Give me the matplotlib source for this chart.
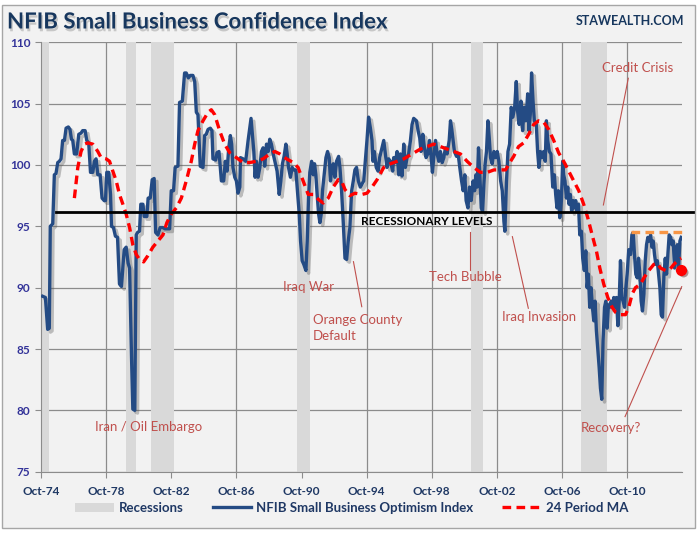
import matplotlib
matplotlib.use("Agg")
import matplotlib.pyplot as plt
import matplotlib.patheffects as pe
from matplotlib.patches import Patch, Rectangle
from matplotlib.lines import Line2D

plt.rcParams['font.family'] = ['Lato', 'DejaVu Sans']

# NFIB Small Business Optimism Index (fractional years)
nfib_years = [
    1974.85, 1975.02, 1975.16, 1975.26, 1975.32, 1975.47, 1975.57, 1975.67, 1975.78, 1975.88,
    1975.98, 1976.08, 1976.19, 1976.29, 1976.43, 1976.53, 1976.62, 1976.70, 1976.80, 1976.94,
    1977.07, 1977.21, 1977.31, 1977.46, 1977.56, 1977.68, 1977.79, 1977.93, 1978.03, 1978.13,
    1978.24, 1978.38, 1978.50, 1978.63, 1978.71, 1978.79, 1978.91, 1979.02, 1979.08, 1979.20,
    1979.32, 1979.45, 1979.57, 1979.69, 1979.86, 1979.98, 1980.10, 1980.19, 1980.31, 1980.39,
    1980.51, 1980.60, 1980.68, 1980.80, 1980.88, 1981.01, 1981.09, 1981.25, 1981.33, 1981.46,
    1981.58, 1981.70, 1981.79, 1981.93, 1982.07, 1982.24, 1982.36, 1982.65, 1982.75, 1982.89,
    1982.99, 1983.16, 1983.26, 1983.43, 1983.57, 1983.67, 1983.80, 1983.92, 1984.08, 1984.19,
    1984.29, 1984.39, 1984.53, 1984.70, 1984.80, 1984.90, 1985.01, 1985.15, 1985.25, 1985.31,
    1985.48, 1985.56, 1985.68, 1985.83, 1985.97, 1986.07, 1986.18, 1986.28, 1986.38, 1986.46,
    1986.54, 1986.65, 1986.75, 1986.85, 1986.96, 1987.00, 1987.16, 1987.32, 1987.47, 1987.57,
    1987.65, 1987.73, 1987.82, 1987.90, 1987.98, 1988.08, 1988.19, 1988.29, 1988.39, 1988.49,
    1988.60, 1988.70, 1988.80, 1988.90, 1989.01, 1989.11, 1989.25, 1989.38, 1989.48, 1989.58,
    1989.68, 1989.79, 1989.87, 1989.95, 1990.07, 1990.18, 1990.28, 1990.40, 1990.48, 1990.61,
    1990.69, 1990.79, 1990.89, 1991.02, 1991.10, 1991.18, 1991.26, 1991.37, 1991.47, 1991.55,
    1991.63, 1991.71, 1991.80, 1991.88, 1991.96, 1992.04, 1992.14, 1992.25, 1992.35, 1992.45,
    1992.53, 1992.62, 1992.70, 1992.80, 1992.90, 1993.03, 1993.11, 1993.21, 1993.31, 1993.42,
    1993.52, 1993.62, 1993.72, 1993.83, 1993.93, 1994.03, 1994.13, 1994.24, 1994.36, 1994.57,
    1994.77, 1994.87, 1994.98, 1995.08, 1995.14, 1995.22, 1995.34, 1995.45, 1995.55, 1995.69,
    1995.80, 1995.90, 1996.00, 1996.10, 1996.21, 1996.35, 1996.41, 1996.51, 1996.62, 1996.72,
    1996.82, 1996.92, 1997.03, 1997.13, 1997.23, 1997.33, 1997.44, 1997.54, 1997.64, 1997.81,
    1997.91, 1998.01, 1998.09, 1998.20, 1998.30, 1998.40, 1998.50, 1998.61, 1998.71, 1998.79,
    1998.87, 1998.98, 1999.08, 1999.18, 1999.28, 1999.39, 1999.49, 1999.59, 1999.69, 1999.82,
    1999.90, 1999.98, 2000.06, 2000.14, 2000.27, 2000.37, 2000.47, 2000.58, 2000.68, 2000.78,
    2000.86, 2000.97, 2001.07, 2001.17, 2001.29, 2001.38, 2001.46, 2001.54, 2001.62, 2001.70,
    2001.79, 2001.87, 2001.95, 2002.03, 2002.11, 2002.20, 2002.28, 2002.36, 2002.46, 2002.57,
    2002.67, 2002.77, 2002.87, 2002.98, 2003.08, 2003.18, 2003.24, 2003.34, 2003.43, 2003.53,
    2003.63, 2003.73, 2003.84, 2003.94, 2004.02, 2004.12, 2004.23, 2004.33, 2004.43, 2004.53,
    2004.64, 2004.72, 2004.80, 2004.88, 2004.97, 2005.05, 2005.17, 2005.25, 2005.33, 2005.42,
    2005.52, 2005.62, 2005.72, 2005.79, 2005.87, 2005.97, 2006.07, 2006.18, 2006.28, 2006.36,
    2006.44, 2006.52, 2006.61, 2006.71, 2006.79, 2006.85, 2006.93, 2007.02, 2007.10, 2007.18,
    2007.26, 2007.34, 2007.43, 2007.51, 2007.59, 2007.67, 2007.76, 2007.84, 2007.94, 2008.02,
    2008.12, 2008.21, 2008.29, 2008.37, 2008.45, 2008.53, 2008.62, 2008.70, 2008.78, 2008.86,
    2008.94, 2009.03, 2009.11, 2009.19, 2009.27, 2009.36, 2009.44, 2009.52, 2009.60, 2009.68,
    2009.77, 2009.85, 2009.93, 2010.01, 2010.09, 2010.18, 2010.26, 2010.34, 2010.42, 2010.50,
    2010.59, 2010.67, 2010.75, 2010.85, 2010.96, 2011.04, 2011.12, 2011.20, 2011.28, 2011.37,
    2011.45, 2011.53, 2011.61, 2011.69, 2011.78, 2011.86, 2011.94, 2012.02, 2012.10, 2012.19,
    2012.27, 2012.35, 2012.43, 2012.51, 2012.60, 2012.68, 2012.76, 2012.84, 2012.92, 2013.01,
    2013.09, 2013.17, 2013.25, 2013.33, 2013.42, 2013.50, 2013.58, 2013.66, 2013.74, 2013.83,
    2013.91, 2013.99, 2014.07,
]
nfib_values = [
    89.3, 89.2, 86.6, 86.7, 95.0, 95.2, 99.2, 99.3, 100.2, 100.3,
    100.5, 102.0, 102.0, 103.0, 103.1, 102.9, 102.1, 102.0, 100.9, 100.9,
    102.5, 102.6, 102.8, 102.8, 102.0, 101.8, 99.4, 99.4, 100.3, 100.5,
    99.2, 99.2, 97.3, 97.1, 97.1, 99.4, 99.4, 97.6, 95.0, 94.9,
    94.2, 94.1, 90.3, 90.1, 93.1, 93.3, 92.0, 91.6, 84.3, 80.1,
    80.0, 94.3, 94.5, 94.6, 96.8, 96.8, 95.8, 95.8, 97.3, 97.3,
    98.8, 98.9, 94.5, 94.3, 94.9, 94.9, 94.8, 94.8, 97.9, 97.9,
    99.8, 99.9, 105.1, 105.2, 107.5, 107.5, 107.1, 107.3, 107.3, 106.8,
    104.3, 104.1, 99.9, 99.8, 102.4, 102.5, 102.9, 103.0, 102.8, 100.5,
    100.4, 101.0, 101.1, 98.7, 98.7, 100.3, 99.5, 101.4, 102.4, 101.7,
    99.8, 99.0, 98.7, 97.7, 98.2, 100.6, 100.5, 100.3, 102.0, 103.0,
    103.8, 102.5, 101.1, 99.0, 100.3, 99.0, 99.8, 101.1, 101.4, 99.9,
    101.7, 101.1, 102.1, 101.7, 100.9, 100.3, 99.5, 97.6, 98.7, 100.1,
    100.7, 101.7, 100.9, 99.8, 99.0, 99.8, 99.6, 99.6, 98.2, 96.0,
    93.8, 92.2, 91.9, 91.4, 93.8, 97.3, 99.4, 100.3, 99.2, 100.1,
    99.2, 97.6, 96.0, 95.3, 96.0, 97.9, 99.2, 100.6, 101.1, 100.6,
    98.7, 99.8, 100.1, 99.0, 100.3, 100.7, 99.8, 97.9, 95.4, 92.4,
    92.3, 93.8, 94.9, 97.9, 98.7, 99.6, 99.8, 98.7, 98.2, 98.7,
    102.0, 103.9, 103.0, 102.0, 100.3, 101.1, 99.8, 99.5, 100.6, 101.4,
    102.0, 100.9, 99.8, 100.5, 100.3, 99.5, 100.6, 100.2, 101.1, 99.2,
    100.9, 99.1, 101.7, 99.8, 100.6, 100.9, 102.0, 103.3, 103.8, 103.6,
    102.8, 102.2, 101.1, 102.5, 101.4, 100.6, 100.9, 102.0, 100.7, 99.4,
    100.6, 102.0, 100.9, 100.3, 101.1, 100.2, 100.6, 101.4, 100.9, 102.0,
    103.6, 102.9, 102.0, 101.1, 100.7, 100.9, 99.8, 98.7, 97.9, 99.2,
    97.1, 96.5, 98.2, 97.1, 98.7, 97.9, 99.2, 98.2, 101.4, 99.2,
    96.5, 96.2, 98.4, 100.1, 101.1, 103.6, 102.2, 100.6, 100.1, 101.1,
    100.6, 101.1, 100.3, 98.7, 97.9, 95.4, 94.6, 98.7, 101.1, 101.7,
    104.7, 103.9, 104.7, 106.8, 104.4, 103.3, 105.2, 102.8, 104.7, 103.6,
    105.8, 102.8, 104.1, 107.5, 105.2, 103.6, 103.3, 101.1, 99.8, 101.1,
    100.6, 101.1, 100.3, 103.6, 102.0, 101.1, 100.9, 98.2, 99.2, 97.6,
    96.5, 97.9, 95.7, 97.1, 100.3, 99.2, 98.7, 97.3, 98.2, 96.8,
    97.6, 96.2, 97.1, 96.5, 97.1, 96.2, 96.8, 94.3, 94.6, 92.4,
    91.4, 93.0, 90.0, 91.1, 88.4, 90.0, 88.4, 87.3, 88.9, 86.5,
    85.1, 83.5, 81.8, 80.9, 85.7, 88.4, 88.9, 86.7, 88.6, 88.4,
    88.9, 88.4, 89.2, 88.4, 89.2, 86.9, 88.9, 92.2, 89.2, 88.9,
    88.4, 90.0, 91.1, 93.1, 92.7, 94.3, 94.5, 92.7, 91.1, 90.8,
    92.4, 91.1, 88.9, 88.1, 89.5, 92.2, 93.5, 94.1, 93.8, 94.3,
    93.3, 93.8, 92.7, 91.9, 92.2, 91.1, 90.0, 87.8, 87.6, 91.1,
    92.4, 91.1, 92.7, 94.3, 94.1, 93.5, 93.8, 91.6, 92.7, 93.5,
    91.6, 93.8, 94.1,
]

# 24 period moving average
ma_years = [
    1976.80, 1977.01, 1977.21, 1977.42, 1977.62, 1977.93, 1978.24, 1978.44, 1978.75, 1978.96,
    1979.16, 1979.37, 1979.57, 1979.78, 1979.98, 1980.19, 1980.39, 1980.60, 1980.80, 1981.05,
    1981.31, 1981.62, 1981.93, 1982.24, 1982.48, 1982.75, 1983.06, 1983.37, 1983.67, 1983.98,
    1984.19, 1984.39, 1984.70, 1985.01, 1985.21, 1985.42, 1985.72, 1986.03, 1986.34, 1986.75,
    1987.16, 1987.57, 1987.98, 1988.39, 1988.80, 1989.11, 1989.42, 1989.83, 1990.24, 1990.54,
    1990.85, 1991.16, 1991.47, 1991.78, 1992.08, 1992.39, 1992.70, 1993.01, 1993.21, 1993.42,
    1993.72, 1994.03, 1994.46, 1994.77, 1995.08, 1995.39, 1995.80, 1996.21, 1996.62, 1997.03,
    1997.54, 1998.05, 1998.46, 1998.87, 1999.28, 1999.69, 2000.10, 2000.51, 2000.92, 2001.33,
    2001.74, 2002.16, 2002.57, 2002.98, 2003.28, 2003.59, 2003.78, 2004.08, 2004.39, 2004.70,
    2005.01, 2005.31, 2005.62, 2005.93, 2006.24, 2006.54, 2006.85, 2007.16, 2007.47, 2007.78,
    2008.08, 2008.33, 2008.60, 2008.86, 2009.07, 2009.31, 2009.56, 2009.83, 2010.03, 2010.34,
    2010.65, 2010.85, 2011.06, 2011.26, 2011.57, 2011.78, 2012.08, 2012.39, 2012.60, 2012.80,
    2013.11, 2013.38, 2013.62, 2013.93, 2014.07,
]
ma_values = [
    97.3, 99.8, 101.1, 101.7, 101.8, 101.7, 101.1, 100.6, 100.5, 100.3,
    99.5, 98.7, 97.6, 96.8, 96.0, 94.9, 93.5, 92.7, 92.3, 92.1,
    92.6, 93.3, 93.8, 94.3, 95.3, 96.0, 96.5, 97.3, 98.7, 100.3,
    101.7, 102.8, 103.6, 104.3, 104.5, 104.1, 102.8, 101.7, 101.0, 100.6,
    100.2, 100.2, 100.3, 100.5, 100.9, 101.1, 100.9, 100.5, 100.2, 99.8,
    98.7, 97.6, 97.6, 97.2, 96.9, 97.3, 98.2, 98.8, 98.7, 98.0,
    97.5, 97.7, 97.6, 97.7, 98.2, 98.8, 99.8, 100.1, 100.3, 100.5,
    100.9, 101.3, 101.5, 101.7, 101.5, 101.3, 101.1, 100.9, 100.3, 99.8,
    99.4, 99.4, 99.6, 99.6, 99.6, 100.3, 100.7, 101.5, 101.8, 102.5,
    103.3, 103.6, 103.5, 102.9, 102.0, 101.0, 100.3, 99.5, 98.7, 97.9,
    96.8, 95.7, 94.3, 93.0, 91.6, 90.3, 89.2, 88.4, 88.0, 87.8,
    87.8, 88.4, 89.5, 90.0, 90.3, 90.8, 91.4, 91.9, 92.0, 91.6,
    91.4, 91.5, 91.9, 92.3, 92.4,
]

# recession periods (start, end)
recession_start = [1974.75, 1980.00, 1981.50, 1990.50, 2001.17, 2007.92]
recession_end = [1975.25, 1980.58, 1982.92, 1991.25, 2001.92, 2009.50]

recession_level = 96.2
resistance_level = 94.5
resistance_start = 2011.0
resistance_end = 2014.45
last_ma_point = (2014.09, 91.4)

tick_years = [1974.75 + 4 * k for k in range(10)]
tick_labels = ['Oct-74', 'Oct-78', 'Oct-82', 'Oct-86', 'Oct-90',
               'Oct-94', 'Oct-98', 'Oct-02', 'Oct-06', 'Oct-10']

BLUE = '#244b84'
RED = '#ff0000'
NOTE = '#c0504d'
NAVY = '#1f3864'
GRID = '#8c8c8c'
DASH = (0, (2.6, 1.6))

fig = plt.figure(figsize=(6.98, 5.33), dpi=100, facecolor='white')
fig.patches.append(Rectangle((0.0024, 0.0094), 0.993, 0.981, transform=fig.transFigure,
                             facecolor='#f2f2f2', edgecolor='#a6a6a6', lw=1, zorder=-10))

ax = fig.add_axes([41 / 698, 1 - 471.7 / 533, 640.7 / 698, 429.4 / 533])
ax.set_facecolor('none')

for s, e in zip(recession_start, recession_end):
    ax.axvspan(s, e, color='#d9d9d9', lw=0, zorder=1)

ax.plot(nfib_years, nfib_values, color=BLUE, lw=2.4, zorder=3, solid_joinstyle='round',
        path_effects=[pe.SimpleLineShadow(offset=(2, -2), shadow_color='#555555', alpha=0.35),
                      pe.Normal()])
ax.plot(ma_years, ma_values, color=RED, lw=2.4, ls=DASH, zorder=4)
ax.plot([last_ma_point[0]], [last_ma_point[1]], 'o', color=RED, ms=7, zorder=5, clip_on=False,
        path_effects=[pe.SimplePatchShadow(offset=(1.5, -1.5), alpha=0.4), pe.Normal()])

ax.plot([1975.67, 2014.8], [recession_level] * 2, color='black', lw=2, zorder=4, clip_on=False)
ax.plot([resistance_start, resistance_end], [resistance_level] * 2, color='#f79646', lw=2.4,
        ls=DASH, zorder=4, clip_on=False)

ax.set_xlim(1974.75, 2014.1)
ax.set_ylim(75, 110)
ax.set_yticks(range(75, 111, 5))
ax.set_xticks(tick_years)
ax.set_xticklabels(tick_labels)
ax.grid(True, color=GRID, lw=0.9, zorder=0.5)
ax.set_axisbelow(True)
for side in ['top', 'right']:
    ax.spines[side].set_visible(False)
for side in ['left', 'bottom']:
    ax.spines[side].set_color(GRID)
ax.tick_params(axis='both', colors=GRID, length=4)
ax.tick_params(axis='x', labelcolor=NAVY, labelsize=8.5, pad=6)
ax.tick_params(axis='y', labelcolor='#333399', labelsize=8.5)
for lab in ax.get_xticklabels() + ax.get_yticklabels():
    lab.set_fontweight('bold')

# annotations
note_kw = dict(color=NOTE, fontsize=9.5, ha='center', va='center', zorder=6)
ax.text(1981.38, 78.65, 'Iran / Oil Embargo', **note_kw)
ax.text(1991.15, 90.06, 'Iraq War', **note_kw)
ax.text(1991.46, 86.72, 'Orange County\nDefault', color=NOTE, fontsize=9.5, ha='left',
        va='center', linespacing=1.45, zorder=6)
ax.text(2000.82, 90.85, 'Tech Bubble', **note_kw)
ax.text(2005.37, 87.64, 'Iraq Invasion', **note_kw)
ax.text(2011.42, 107.88, 'Credit Crisis', **note_kw)
ax.text(2009.73, 78.54, 'Recovery?', **note_kw)
ax.text(1998.46, 95.38, 'RECESSIONARY LEVELS', color='black', fontsize=8.5,
        fontweight='bold', ha='center', va='center', zorder=6)

pointer_kw = dict(color=NOTE, lw=0.8, zorder=6, clip_on=False)
ax.plot([1993.94, 1994.45], [92.12, 88.45], **pointer_kw)
ax.plot([2001.10, 2001.10], [94.56, 91.44], **pointer_kw)
ax.plot([2003.70, 2004.68], [94.16, 88.32], **pointer_kw)
ax.plot([2010.82, 2009.29], [107.07, 96.74], **pointer_kw)
ax.plot([2010.62, 2014.10], [79.49, 90.08], **pointer_kw)

# title and site name
fig.text(7 / 698, 1 - 22 / 533, 'NFIB Small Business Confidence Index', color='#17375e',
         fontsize=16, fontweight='bold', ha='left', va='center',
         path_effects=[pe.withSimplePatchShadow(offset=(1, -2), shadow_rgbFace='#777777', alpha=0.35)])
fig.text(684 / 698, 1 - 21 / 533, 'STAWEALTH.COM', color='#17375e', fontsize=9,
         fontweight='bold', ha='right', va='center')

handles = [Patch(facecolor='#d9d9d9', edgecolor='none'),
           Line2D([], [], color=BLUE, lw=2.4),
           Line2D([], [], color=RED, lw=2.4, ls=DASH)]
labels = ['Recessions', 'NFIB Small Business Optimism Index', '24 Period MA']
leg = fig.legend(handles, labels, loc='center', bbox_to_anchor=(0.504, 0.047), ncol=3,
                 frameon=False, handlelength=2.9, handletextpad=0.4, columnspacing=2.2,
                 prop={'size': 9.5, 'weight': 'bold'})
for t in leg.get_texts():
    t.set_color(NAVY)

fig.savefig('out.png', dpi=100, facecolor='white')
